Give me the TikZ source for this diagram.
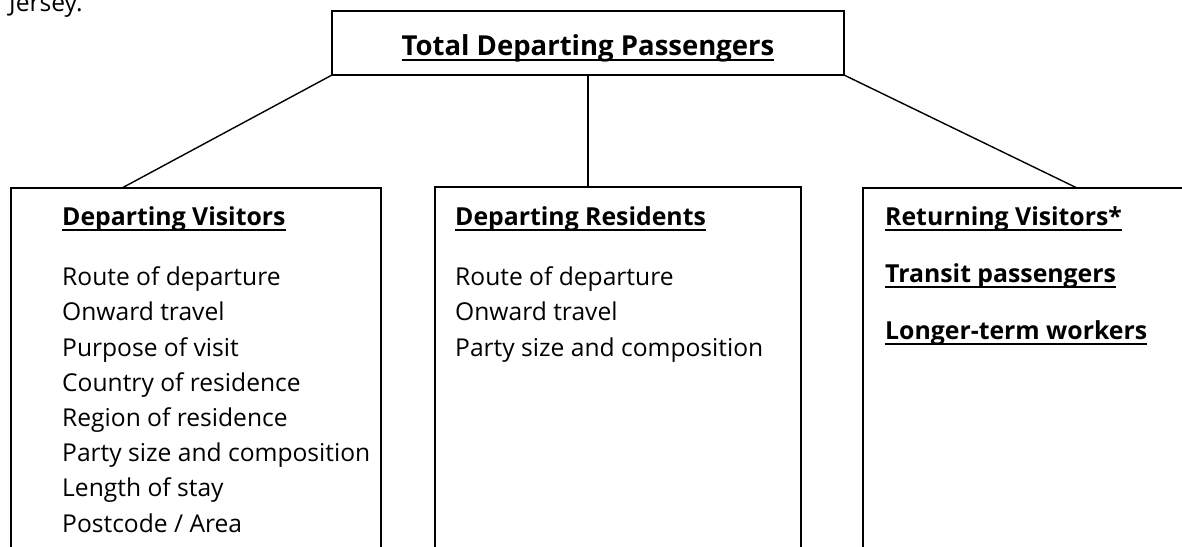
\documentclass[tikz,border=0pt]{standalone}
\usepackage{fontspec}
\setmainfont{Open Sans}
\usetikzlibrary{calc}
\newcommand{\ulhead}[1]{\setbox0\hbox{#1}\rlap{\rule[-5.5pt]{\wd0}{1.8pt}}\box0}

\begin{document}
\begin{tikzpicture}[x=1pt, y=-1pt,
      panel/.style = {draw, line width=1.4pt, anchor=north west, inner sep=0pt, outer sep=0pt},
      link/.style = {line width=1.4pt},
      heading/.style = {anchor=base west, inner sep=0pt, font=\fontsize{24.8}{57}\selectfont\bfseries, align=left},
      items/.style = {anchor=base west, inner sep=0pt, align=left, font=\fontsize{24.6}{35.2}\selectfont}
    ]
      \useasboundingbox (0,0) rectangle (1182,546);
      \clip (0,0) rectangle (1182,546);
      % caption text cut by the page edge
      \node[items] (jersey) at (9,11) {Jersey.};
      % boxes
      \node[panel, minimum width=512pt, minimum height=64pt] (total) at (332,11) {};
      \node[panel, minimum width=370pt, minimum height=420pt] (visitors) at (11,188) {};
      \node[panel, minimum width=366pt, minimum height=420pt] (residents) at (435,187) {};
      \node[panel, minimum width=420pt, minimum height=420pt] (others) at (863,188) {};
      % texts (base = last line)
      \node[heading, anchor=base, font=\fontsize{27.5}{33}\selectfont\bfseries] (totalhead) at (total.center |- 0,55) {\ulhead{Total Departing Passengers}};
      \node[heading] (visitorshead) at (62,225) {\ulhead{Departing Visitors}};
      \node[items] (visitorsitems) at (62,532) {Route of departure\\Onward travel\\Purpose of visit\\Country of residence\\Region of residence\\Party size and composition\\Length of stay\\Postcode / Area};
      \node[heading] (residentshead) at (455,225) {\ulhead{Departing Residents}};
      \node[items] (residentsitems) at (455,356) {Route of departure\\Onward travel\\Party size and composition};
      \node[heading] (othershead) at (885,339) {\ulhead{Returning Visitors*}\\\ulhead{Transit passengers}\\\ulhead{Longer-term workers}};
      % connectors
      \draw[link] (total.south west) -- ($(visitors.north west)!0.3!(visitors.north east)$);
      \draw[link] (total.south) -- (total.south |- residents.north);
      \draw[link] (total.south east) -- ($(others.north west)+(214,0)$);
    \end{tikzpicture}
\end{document}
